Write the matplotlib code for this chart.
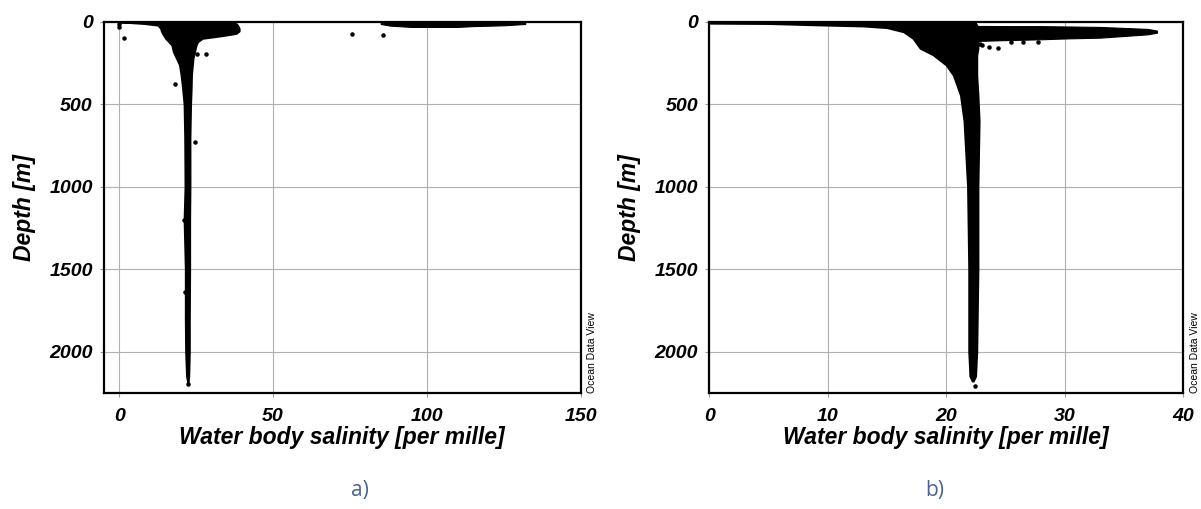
import matplotlib.pyplot as plt
import numpy as np

# ---- panel a) : depth / salinity cloud ----
a_depth = [0, 10, 20, 40, 55, 70, 85, 100, 120, 140, 180, 220, 260, 320, 400, 500,
           700, 1000, 1200, 1500, 1800, 2000, 2150, 2190]
a_left = [0, 8, 12.5, 13.4, 13.6, 14, 14.5, 15, 16, 17, 17.5, 18.5, 19.5, 20, 20.5, 21,
          21.2, 21.3, 21.0, 21.4, 21.4, 21.5, 21.8, 22.2]
a_right = [37, 38, 38.5, 39, 39, 38, 33, 27, 25.5, 25, 24.5, 24, 23.8, 23.5, 23.4, 23.2,
           23.0, 23.0, 22.9, 22.9, 22.8, 22.8, 22.6, 22.4]

# hypersaline strip near the surface
a_strip_sal = [85, 88, 95, 110, 115, 125, 132]
a_strip_top = [3, 2, 2, 2, 2, 3, 5]
a_strip_bot = [12, 22, 30, 30, 25, 20, 12]

a_pts_sal = [0, 0, 1.4, 25.2, 28.2, 18.2, 24.5, 75.8, 85.8, 21.0, 22.3, 21.2]
a_pts_dep = [15, 30, 97, 196, 196, 378, 727, 74, 81, 1200, 2200, 1640]

# ---- panel b) ----
b_depth = [0, 8, 10, 18, 25, 35, 60, 100, 160, 200, 262, 323, 444, 600, 1000,
           1500, 2000, 2150, 2180]
b_left = [0, 0, 5, 9, 13, 15, 16.4, 17.2, 17.8, 18.9, 20.0, 20.6, 21.2, 21.5, 21.8,
          21.9, 21.9, 22.0, 22.2]
b_right = [22.5, 22.5, 22.5, 22.6, 22.6, 22.7, 22.7, 22.7, 22.7, 22.6, 22.6, 22.6,
           22.7, 22.8, 22.7, 22.7, 22.6, 22.5, 22.3]

b_band_sal = [20, 22.5, 25, 28, 30, 33, 35, 37, 37.8]
b_band_top = [22, 24, 25, 25, 27, 30, 36, 42, 52]
b_band_bot = [110, 115, 110, 105, 100, 95, 85, 75, 65]

b_pts_sal = [22.4, 23.0, 23.6, 24.4, 25.5, 26.5, 27.8, 22.9]
b_pts_dep = [2210, 140, 150, 158, 122, 124, 120, 132]

xlims = [(-5, 150), (0, 40)]
xticks = [[0, 50, 100, 150], [0, 10, 20, 30, 40]]
yticks = [0, 500, 1000, 1500, 2000]
captions = ['a)', 'b)']

fig = plt.figure(figsize=(12.01, 5.09), dpi=100)
axa = fig.add_axes([0.0866, 0.2285, 0.3968, 0.7283])
axb = fig.add_axes([0.5905, 0.2285, 0.3945, 0.7283])

lab_font = dict(family='Liberation Sans', weight='bold', style='italic')

for i, ax in enumerate([axa, axb]):
    if i == 0:
        ax.fill_betweenx(a_depth, a_left, a_right, color='black', lw=1.2)
        ax.fill_between(a_strip_sal, a_strip_top, a_strip_bot, color='black', lw=0.8)
        ax.scatter(a_pts_sal, a_pts_dep, s=5, color='black')
    else:
        ax.fill_betweenx(b_depth, b_left, b_right, color='black', lw=1.2)
        ax.fill_between(b_band_sal, b_band_top, b_band_bot, color='black', lw=0.8)
        ax.scatter(b_pts_sal, b_pts_dep, s=5, color='black')

    ax.set_xlim(*xlims[i])
    ax.set_ylim(2250, 0)
    ax.set_xticks(xticks[i])
    ax.set_yticks(yticks)
    ax.grid(True, color='#b0b0b0', lw=0.8)
    ax.set_axisbelow(True)
    for s in ax.spines.values():
        s.set_linewidth(1.6)
    ax.tick_params(length=3, width=0.8, color='#999999', pad=5)
    ax.tick_params(axis='x', pad=8)
    for t in ax.get_xticklabels() + ax.get_yticklabels():
        t.set(fontsize=14, **lab_font)
    ax.set_xlabel('Water body salinity [per mille]', fontsize=16.5, labelpad=1, **lab_font)
    ax.set_ylabel('Depth [m]', fontsize=16.5, labelpad=10, **lab_font)

fig.text(0.4929, 0.2285, 'Ocean Data View', rotation=90, ha='center', va='bottom',
         fontsize=7.5, family='Liberation Sans')
fig.text(0.9950, 0.2285, 'Ocean Data View', rotation=90, ha='center', va='bottom',
         fontsize=7.5, family='Liberation Sans')

fig.text(0.2995, 0.037, captions[0], ha='center', va='center', fontsize=15,
         color='#44639a', family='Open Sans')
fig.text(0.7785, 0.037, captions[1], ha='center', va='center', fontsize=15,
         color='#44639a', family='Open Sans')

fig.savefig('out.png', dpi=100)
